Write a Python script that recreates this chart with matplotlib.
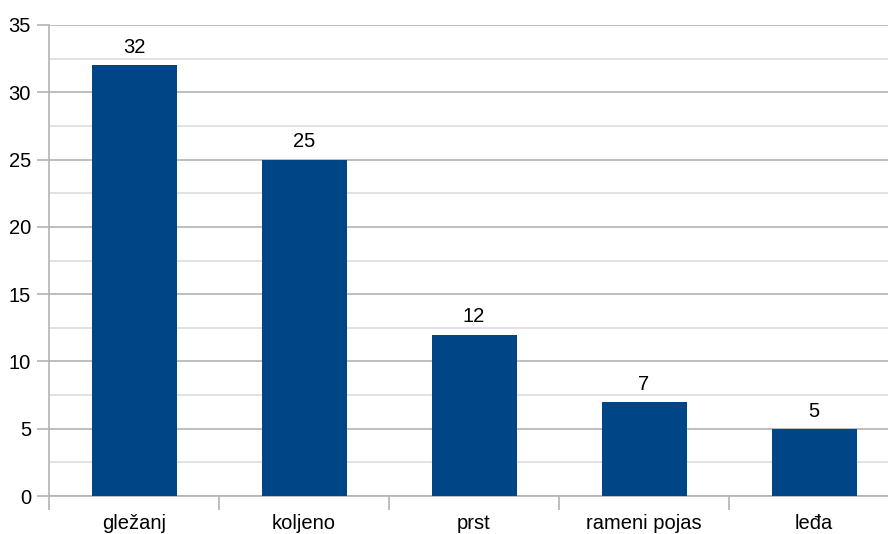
import matplotlib
matplotlib.use("Agg")
import matplotlib.pyplot as plt
import numpy as np
from matplotlib.ticker import MultipleLocator, FixedLocator

categories = ["gležanj", "koljeno", "prst", "rameni pojas", "leđa"]
values = [32, 25, 12, 7, 5]

plt.rcParams['font.family'] = ['Liberation Sans', 'DejaVu Sans']

fig = plt.figure(figsize=(8.88, 5.34), dpi=100)
ax = fig.add_axes([49/888, 1-496/534, (899-49)/888, (496-25)/534])

x = np.arange(len(categories))
ax.bar(x, values, width=0.5, color="#004586", zorder=3)
for xi, v in zip(x, values):
    ax.text(xi, v + 0.6, str(v), ha="center", va="bottom", fontsize=14.5, color="#000000")

ax.set_xlim(-0.5, len(categories) - 0.5)
ax.set_ylim(0, 35)
ax.yaxis.set_major_locator(MultipleLocator(5))
ax.yaxis.set_minor_locator(MultipleLocator(2.5))
ax.grid(axis="y", which="major", color="#b3b3b3", linewidth=1.2, zorder=0)
ax.grid(axis="y", which="minor", color="#dddddd", linewidth=1.2, zorder=0)

ax.set_xticks(x)
ax.set_xticklabels(categories, fontsize=14.5)
ax.xaxis.set_minor_locator(FixedLocator(np.arange(-0.5, len(categories), 1.0)))
ax.tick_params(axis="x", which="major", length=0, pad=13)
ax.tick_params(axis="x", which="minor", length=10, color="#b3b3b3", width=1.2)
ax.tick_params(axis="y", which="major", length=9, color="#b3b3b3", width=1.2, labelsize=14.5, pad=4)
ax.tick_params(axis="y", which="minor", length=0)

for s in ["top", "right"]:
    ax.spines[s].set_visible(False)
for s in ["left", "bottom"]:
    ax.spines[s].set_color("#b3b3b3")
    ax.spines[s].set_linewidth(1.2)

fig.savefig("out.png", dpi=100)
